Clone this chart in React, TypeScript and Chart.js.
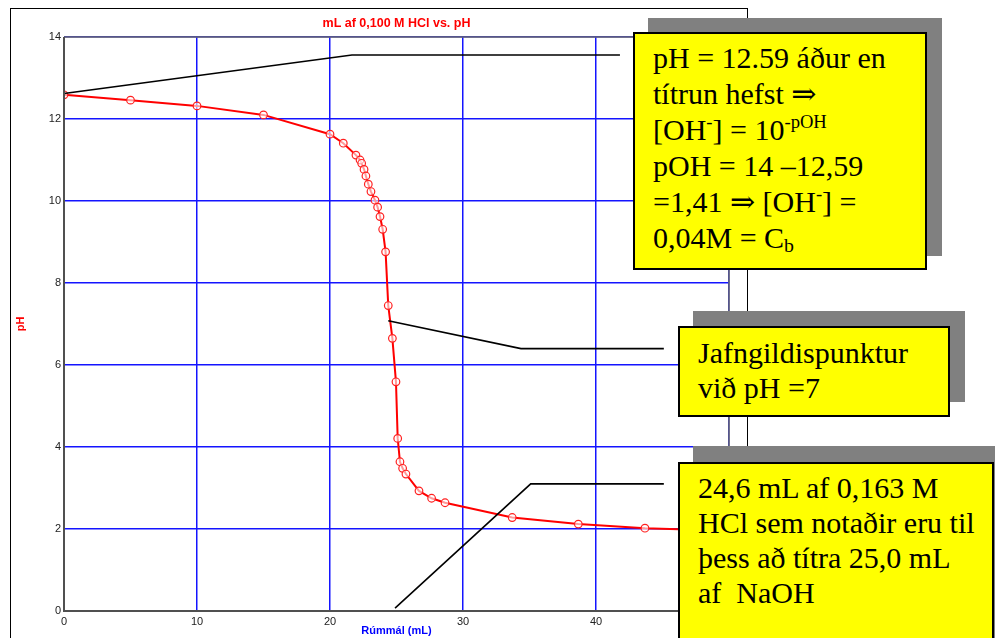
import React, { useEffect, useRef } from "react";
import { Chart, registerables } from "chart.js";

Chart.register(...registerables);

// ---- data ----
const volumeML = [
  0, 5, 10, 15, 20, 21, 21.95, 22.26, 22.38, 22.56, 22.7, 22.88, 23.08, 23.38,
  23.58, 23.76, 23.96, 24.18, 24.38, 24.69, 24.96, 25.09, 25.26, 25.46, 25.71,
  26.69, 27.64, 28.65, 33.7, 38.67, 43.68, 48.7,
];
const pHValues = [
  12.59, 12.46, 12.32, 12.1, 11.63, 11.41, 11.12, 11.0, 10.92, 10.77, 10.61,
  10.41, 10.23, 10.02, 9.85, 9.62, 9.31, 8.76, 7.45, 6.65, 5.59, 4.21, 3.64,
  3.48, 3.34, 2.93, 2.75, 2.64, 2.28, 2.12, 2.02, 1.97,
];

const chartTitle = "mL af 0,100 M HCl vs. pH";
const xTitle = "Rúmmál (mL)";
const yTitle = "pH";
const xMin = 0;
const xMax = 50;
const xStep = 10;
const yMin = 0;
const yMax = 14;
const yStep = 2;

// leader lines (data units) from the curve to the call-out boxes
const leader1X = [0, 21.65, 41.8];
const leader1Y = [12.62, 13.56, 13.56];
const leader2X = [24.38, 34.36, 45.1];
const leader2Y = [7.08, 6.4, 6.4];
const leader3X = [24.89, 35.09, 45.1];
const leader3Y = [0.07, 3.1, 3.1];

const framePlugin = {
  id: "framePlugin",
  beforeDraw(chart: any) {
    const { ctx, width, height } = chart;
    ctx.save();
    ctx.fillStyle = "#ffffff";
    ctx.fillRect(0, 0, width, height);
    ctx.restore();
  },
  afterDatasetsDraw(chart: any) {
    const { ctx, chartArea: a, scales } = chart;
    const xs = scales.x;
    const ys = scales.y;
    ctx.save();
    // leader lines
    ctx.strokeStyle = "#000000";
    ctx.lineWidth = 1.6;
    const leaders = [
      [leader1X, leader1Y],
      [leader2X, leader2Y],
      [leader3X, leader3Y],
    ];
    leaders.forEach(([lx, ly]) => {
      ctx.beginPath();
      lx.forEach((v: number, i: number) => {
        const px = xs.getPixelForValue(v);
        const py = ys.getPixelForValue(ly[i]);
        if (i === 0) ctx.moveTo(px, py);
        else ctx.lineTo(px, py);
      });
      ctx.stroke();
    });
    // plot area frame
    ctx.strokeStyle = "#6a6a6a";
    ctx.lineWidth = 1.5;
    ctx.beginPath();
    ctx.moveTo(a.left, a.top);
    ctx.lineTo(a.right, a.top);
    ctx.lineTo(a.right, a.bottom);
    ctx.stroke();
    ctx.strokeStyle = "#505050";
    ctx.lineWidth = 2;
    ctx.beginPath();
    ctx.moveTo(a.left, a.top);
    ctx.lineTo(a.left, a.bottom);
    ctx.lineTo(a.right, a.bottom);
    ctx.stroke();
    // outer frame of the graph window
    ctx.strokeStyle = "#000000";
    ctx.lineWidth = 1;
    ctx.strokeRect(10.5, 8.5, 737, 700);
    ctx.restore();
  },
};

const serif = '"Liberation Serif", "Times New Roman", "DejaVu Serif", serif';

const boxBase: React.CSSProperties = {
  position: "absolute",
  boxSizing: "border-box",
  background: "#ffff00",
  border: "2px solid #000",
  fontFamily: serif,
  fontSize: 30,
  color: "#000",
  paddingLeft: 18,
  whiteSpace: "nowrap",
};
const shadowBase: React.CSSProperties = {
  position: "absolute",
  background: "#808080",
};
const supStyle: React.CSSProperties = {
  fontSize: "0.62em",
  verticalAlign: "0.62em",
  lineHeight: 0,
};
const subStyle: React.CSSProperties = {
  fontSize: "0.66em",
  verticalAlign: "-0.22em",
  lineHeight: 0,
};

export default function App() {
  const canvasRef = useRef<HTMLCanvasElement | null>(null);

  useEffect(() => {
    const canvas = canvasRef.current;
    if (!canvas) return;
    const tickFont = { family: '"Liberation Sans", Arial, sans-serif', size: 11 };
    const axisTitleFont = {
      family: '"Liberation Sans", Arial, sans-serif',
      size: 11,
      weight: "bold" as const,
      lineHeight: 1.2,
    };
    const mainTitleFont = {
      family: '"Liberation Sans", Arial, sans-serif',
      size: 12.5,
      weight: "bold" as const,
      lineHeight: 1.2,
    };
    const chart = new Chart(canvas, {
      type: "scatter",
      data: {
        datasets: [
          {
            data: volumeML.map((v, i) => ({ x: v, y: pHValues[i] })),
            showLine: true,
            borderColor: "#ff0000",
            borderWidth: 2,
            tension: 0,
            pointRadius: 3.8,
            pointBorderWidth: 1.2,
            pointBorderColor: "#ff2020",
            pointBackgroundColor: "rgba(255,255,255,0.6)",
          },
        ],
      },
      options: {
        responsive: false,
        animation: false,
        events: [],
        layout: { padding: { left: 10, right: 266, top: 0, bottom: 0 } },
        plugins: {
          legend: { display: false },
          tooltip: { enabled: false },
          title: {
            display: true,
            text: chartTitle,
            fullSize: false,
            color: "#ff0000",
            font: mainTitleFont,
            padding: { top: 16, bottom: 6 },
          },
        },
        scales: {
          x: {
            type: "linear",
            min: xMin,
            max: xMax,
            ticks: { stepSize: xStep, color: "#222", font: tickFont, padding: 4 },
            grid: { color: "#1414ff", lineWidth: 1.5, drawTicks: false },
            border: { display: false },
            title: {
              display: true,
              text: xTitle,
              color: "#0000ff",
              font: axisTitleFont,
              padding: { top: 0, bottom: 0 },
            },
            afterFit: (s: any) => {
              s.height = 27;
            },
          },
          y: {
            type: "linear",
            min: yMin,
            max: yMax,
            ticks: { stepSize: yStep, color: "#222", font: tickFont, padding: 3 },
            grid: { color: "#1414ff", lineWidth: 1.5, drawTicks: false },
            border: { display: false },
            title: {
              display: true,
              text: yTitle,
              color: "#ff0000",
              font: axisTitleFont,
              padding: { top: 4, bottom: 0 },
            },
            afterFit: (s: any) => {
              s.width = 54;
            },
          },
        },
      },
      plugins: [framePlugin],
    } as any);
    return () => chart.destroy();
  }, []);

  return (
    <div
      style={{
        position: "absolute",
        left: 0,
        top: 0,
        width: 995,
        height: 638,
        overflow: "hidden",
        background: "#fff",
      }}
    >
      <canvas
        ref={canvasRef}
        width={995}
        height={638}
        style={{ display: "block", width: 995, height: 638 }}
      />
      {/* call-out 1 */}
      <div style={{ ...shadowBase, left: 648, top: 18, width: 294, height: 238 }} />
      <div
        style={{
          ...boxBase,
          left: 633,
          top: 32,
          width: 294,
          height: 238,
          lineHeight: "36px",
          paddingTop: 6,
        }}
      >
        <div>pH = 12.59 áður en</div>
        <div>títrun hefst ⇒</div>
        <div>
          [OH<sup style={supStyle}>-</sup>] = 10<sup style={supStyle}>-pOH</sup>
        </div>
        <div>pOH = 14 –12,59</div>
        <div>
          =1,41 ⇒ [OH<sup style={supStyle}>-</sup>] =
        </div>
        <div>
          0,04M = C<sub style={subStyle}>b</sub>
        </div>
      </div>
      {/* call-out 2 */}
      <div style={{ ...shadowBase, left: 693, top: 311, width: 272, height: 91 }} />
      <div
        style={{
          ...boxBase,
          left: 678,
          top: 326,
          width: 272,
          height: 91,
          lineHeight: "35px",
          paddingTop: 7,
        }}
      >
        <div>Jafngildispunktur</div>
        <div>við pH =7</div>
      </div>
      {/* call-out 3 */}
      <div style={{ ...shadowBase, left: 693, top: 446, width: 310, height: 220 }} />
      <div
        style={{
          ...boxBase,
          left: 678,
          top: 462,
          width: 316,
          height: 220,
          lineHeight: "35px",
          paddingTop: 6,
        }}
      >
        <div>24,6 mL af 0,163 M</div>
        <div>HCl sem notaðir eru til</div>
        <div>þess að títra 25,0 mL</div>
        <div>af&nbsp; NaOH</div>
      </div>
    </div>
  );
}
